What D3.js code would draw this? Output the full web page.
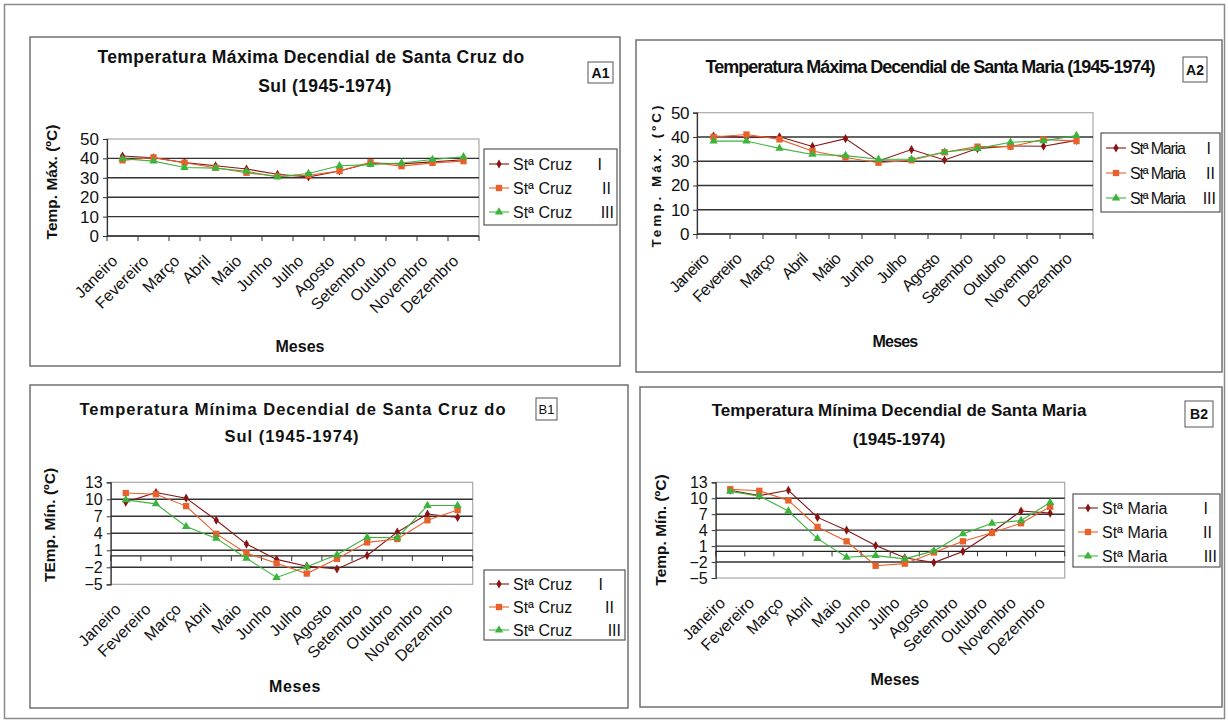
<!DOCTYPE html>
<html>
<head>
<meta charset="utf-8">
<script src="https://cdn.jsdelivr.net/npm/d3@7"></script>
<style>
  html, body { margin: 0; padding: 0; background: #ffffff; }
  svg { display: block; font-family: "Liberation Sans", Arial, sans-serif; }
</style>
</head>
<body>
<svg id="chart" width="1228" height="724"></svg>
<script>
// Month categories on the x axis
const meses = ["Janeiro", "Fevereiro", "Março", "Abril", "Maio", "Junho",
               "Julho", "Agosto", "Setembro", "Outubro", "Novembro", "Dezembro"];

// Tick values for the two y scales
const ticksMax = [0, 10, 20, 30, 40, 50];
const ticksMin = [-5, -2, 1, 4, 7, 10, 13];

// Legend names and station numbers
const nomesCruz = ["Stª Cruz", "Stª Cruz", "Stª Cruz"];
const nomesMaria = ["Stª Maria", "Stª Maria", "Stª Maria"];
const numerais = ["I", "II", "III"];

// Maximum decendial temperature, Santa Cruz do Sul (ºC)
const maxCruzI   = [41.2, 40.3, 37.8, 36.2, 34.5, 31.8, 30.4, 33.5, 37.6, 37.2, 38.2, 39.3];
const maxCruzII  = [39.0, 40.5, 37.8, 35.2, 32.6, 30.8, 31.3, 33.5, 38.0, 36.0, 37.7, 38.6];
const maxCruzIII = [39.8, 38.6, 35.3, 35.0, 33.3, 30.5, 32.2, 36.2, 36.8, 37.6, 39.4, 40.8];

// Maximum decendial temperature, Santa Maria (ºC)
const maxMariaI   = [40.4, 39.7, 40.1, 36.1, 39.3, 30.1, 34.8, 30.5, 35.2, 36.3, 36.2, 38.6];
const maxMariaII  = [40.0, 41.0, 39.0, 34.2, 31.5, 29.4, 30.4, 33.7, 36.0, 36.0, 39.0, 38.3];
const maxMariaIII = [38.3, 38.3, 35.3, 32.8, 32.3, 30.8, 30.8, 33.8, 35.2, 37.8, 38.4, 40.6];

// Minimum decendial temperature, Santa Cruz do Sul (ºC)
const minCruzI   = [9.5, 11.2, 10.2, 6.3, 2.1, -0.6, -1.8, -2.3, 0.1, 4.2, 7.4, 6.8];
const minCruzII  = [11.1, 10.9, 8.8, 3.9, 0.5, -1.3, -3.1, -0.5, 2.4, 3.0, 6.3, 8.1];
const minCruzIII = [9.9, 9.2, 5.2, 3.1, -0.4, -3.8, -1.9, 0.2, 3.3, 3.2, 8.9, 8.9];

// Minimum decendial temperature, Santa Maria (ºC)
const minMariaI   = [11.5, 10.5, 11.5, 6.4, 4.0, 1.1, -1.2, -2.1, 0.0, 3.6, 7.6, 7.2];
const minMariaII  = [11.7, 11.4, 9.6, 4.6, 1.9, -2.7, -2.3, -0.2, 1.9, 3.5, 5.3, 8.4];
const minMariaIII = [11.3, 10.4, 7.6, 2.4, -1.1, -0.8, -1.4, 0.1, 3.3, 5.3, 5.8, 9.2];

// Series styling: colour and marker per station
const estilos = [
  { color: "#881414", symbol: d3.symbolDiamond, size: 24 },
  { color: "#e8602a", symbol: d3.symbolSquare, size: 40 },
  { color: "#3cb43c", symbol: d3.symbolTriangle, size: 30 }
];

const svg = d3.select("#chart");

// Outer frame of the sheet
svg.append("rect")
  .attr("x", 4.5).attr("y", 4.5).attr("width", 1220).attr("height", 714)
  .attr("fill", "none").attr("stroke", "#8a8a8a").attr("stroke-width", 1.5);

function drawPanel(p) {
  const g = svg.append("g");

  // panel border
  g.append("rect")
    .attr("x", p.box[0]).attr("y", p.box[1])
    .attr("width", p.box[2] - p.box[0]).attr("height", p.box[3] - p.box[1])
    .attr("fill", "#fff").attr("stroke", "#707070").attr("stroke-width", 1.5);

  // title
  p.title.forEach((t, i) => {
    g.append("text")
      .attr("x", p.titleX[i]).attr("y", p.titleY[i])
      .attr("text-anchor", "middle")
      .attr("font-size", p.titleSize).attr("font-weight", "bold")
      .attr("letter-spacing", p.titleSpacing)
      .attr("fill", "#111")
      .text(t);
  });

  // panel tag (A1, A2, ...)
  g.append("rect")
    .attr("x", p.tag.box[0]).attr("y", p.tag.box[1])
    .attr("width", p.tag.box[2]).attr("height", p.tag.box[3])
    .attr("fill", "#fff").attr("stroke", "#555").attr("stroke-width", 1);
  g.append("text")
    .attr("x", p.tag.box[0] + p.tag.box[2] / 2)
    .attr("y", p.tag.box[1] + p.tag.box[3] / 2)
    .attr("dy", "0.36em")
    .attr("text-anchor", "middle")
    .attr("font-size", p.tag.size).attr("font-weight", p.tag.bold ? "bold" : "normal")
    .attr("fill", "#111")
    .text(p.tag.text);

  const x = d3.scaleBand().domain(meses).range([p.plot.x0, p.plot.x1]);
  const y = d3.scaleLinear().domain(p.yDomain).range([p.plot.y1, p.plot.y0]);

  // plot area frame
  g.append("rect")
    .attr("x", p.plot.x0).attr("y", p.plot.y0)
    .attr("width", p.plot.x1 - p.plot.x0).attr("height", p.plot.y1 - p.plot.y0)
    .attr("fill", "none").attr("stroke", "#a8a8a8").attr("stroke-width", 1.2);

  // horizontal gridlines
  g.append("g").selectAll("line")
    .data(p.ticks.filter(v => v !== p.yDomain[0] && v !== p.yDomain[1]))
    .join("line")
    .attr("x1", p.plot.x0).attr("x2", p.plot.x1)
    .attr("y1", d => y(d)).attr("y2", d => y(d))
    .attr("stroke", "#333").attr("stroke-width", 1.4);

  // y axis
  const yAxis = d3.axisLeft(y).tickValues(p.ticks).tickSize(4).tickPadding(4)
    .tickFormat(d3.format("d"));
  const ya = g.append("g").attr("transform", `translate(${p.plot.x0},0)`).call(yAxis);
  ya.select(".domain").attr("stroke", "#333").attr("stroke-width", 1.2);
  ya.selectAll(".tick line").attr("stroke", "#333");
  ya.selectAll(".tick text")
    .attr("font-family", "Liberation Sans, Arial, sans-serif")
    .attr("font-size", p.tickSize).attr("letter-spacing", p.tickSpacing)
    .attr("fill", "#111");

  // category axis with tick marks between months
  const axisY = y(p.axisAt);
  const xa = g.append("g").attr("transform", `translate(0,${axisY})`);
  xa.append("line")
    .attr("x1", p.plot.x0).attr("x2", p.plot.x1)
    .attr("stroke", "#222").attr("stroke-width", 1.3);
  const bounds = meses.map(m => x(m)).concat([p.plot.x1]);
  xa.selectAll("line.tk").data(bounds).join("line").attr("class", "tk")
    .attr("x1", d => d).attr("x2", d => d)
    .attr("y1", 0).attr("y2", 5)
    .attr("stroke", "#333").attr("stroke-width", 1);

  // rotated month labels below the plot
  g.append("g").selectAll("text").data(meses).join("text")
    .attr("transform", d =>
      `translate(${x(d) + x.bandwidth() / 2 - 8},${p.plot.y1 + p.labelGap}) rotate(-45)`)
    .attr("text-anchor", "end")
    .attr("dy", "0.35em")
    .attr("font-size", p.monthSize)
    .attr("letter-spacing", p.monthSpacing)
    .attr("fill", "#111")
    .text(d => d);

  // axis titles
  g.append("text")
    .attr("transform", `translate(${p.yTitle[0]},${p.yTitle[1]}) rotate(-90)`)
    .attr("text-anchor", "middle").attr("dy", "0.35em")
    .attr("font-size", p.yTitleSize).attr("font-weight", "bold")
    .attr("letter-spacing", p.yTitleSpacing)
    .attr("fill", "#111")
    .text(p.yTitle[2]);
  g.append("text")
    .attr("x", p.xTitle[0]).attr("y", p.xTitle[1])
    .attr("text-anchor", "middle")
    .attr("font-size", 16).attr("font-weight", "bold")
    .attr("letter-spacing", p.xTitleSpacing)
    .attr("fill", "#111")
    .text("Meses");

  // series lines and markers
  const line = d3.line()
    .x((d, i) => x(meses[i]) + x.bandwidth() / 2)
    .y(d => y(d));
  p.series.forEach((vals, k) => {
    const st = estilos[k];
    g.append("path").datum(vals)
      .attr("d", line)
      .attr("fill", "none").attr("stroke", st.color).attr("stroke-width", 1.1);
    g.append("g").selectAll("path").data(vals).join("path")
      .attr("transform", (d, i) =>
        `translate(${x(meses[i]) + x.bandwidth() / 2},${y(d)})`)
      .attr("d", d3.symbol().type(st.symbol).size(st.size))
      .attr("fill", st.color);
  });

  // legend
  const L = p.legend;
  g.append("rect")
    .attr("x", L.box[0]).attr("y", L.box[1]).attr("width", L.box[2]).attr("height", L.box[3])
    .attr("fill", "#fff").attr("stroke", "#555").attr("stroke-width", 1.2);
  L.rows.forEach((ry, k) => {
    const st = estilos[k];
    const lx = L.box[0] + 5;
    g.append("line")
      .attr("x1", lx).attr("x2", lx + 20).attr("y1", ry).attr("y2", ry)
      .attr("stroke", st.color).attr("stroke-width", 1.1);
    g.append("path")
      .attr("transform", `translate(${lx + 10},${ry})`)
      .attr("d", d3.symbol().type(st.symbol).size(st.size))
      .attr("fill", st.color);
    g.append("text")
      .attr("x", lx + 24).attr("y", ry).attr("dy", "0.36em")
      .attr("font-size", L.size).attr("letter-spacing", L.spacing)
      .attr("fill", "#111")
      .text(p.names[k]);
    g.append("text")
      .attr("x", L.numX[k]).attr("y", ry).attr("dy", "0.36em")
      .attr("text-anchor", "end")
      .attr("font-size", L.size)
      .attr("fill", "#111")
      .text(numerais[k]);
  });
}

const paineis = [
  {
    box: [30, 37, 620, 366],
    title: ["Temperatura Máxima Decendial de Santa Cruz do", "Sul (1945-1974)"],
    titleX: [311, 325], titleY: [63, 92], titleSize: 17.5, titleSpacing: 0.4,
    tag: { text: "A1", box: [588, 62, 25, 21], bold: true, size: 14 },
    plot: { x0: 107, x1: 479, y0: 139, y1: 236 },
    yDomain: [0, 50], ticks: ticksMax, axisAt: 0,
    tickSize: 17, tickSpacing: 0, monthSize: 16, monthSpacing: 0, labelGap: 22,
    yTitle: [52, 182, "Temp. Máx. (ºC)"], yTitleSize: 15.5, yTitleSpacing: 0,
    xTitle: [300, 352], xTitleSpacing: 0,
    series: [maxCruzI, maxCruzII, maxCruzIII], names: nomesCruz,
    legend: { box: [484, 149, 133, 76], rows: [164, 188, 212], size: 16, spacing: 0,
              numX: [602, 611, 614] }
  },
  {
    box: [636, 40, 1222, 372],
    title: ["Temperatura Máxima Decendial de Santa Maria (1945-1974)"],
    titleX: [930], titleY: [73], titleSize: 18, titleSpacing: -1,
    tag: { text: "A2", box: [1183, 57, 24, 25], bold: true, size: 14 },
    plot: { x0: 697, x1: 1093, y0: 112.7, y1: 234 },
    yDomain: [0, 50], ticks: ticksMax, axisAt: 0,
    tickSize: 17, tickSpacing: -0.5, monthSize: 16, monthSpacing: -0.7, labelGap: 22,
    yTitle: [656, 175, "Temp. Máx. (ºC)"], yTitleSize: 13.5, yTitleSpacing: 3,
    xTitle: [895, 347], xTitleSpacing: -0.8,
    series: [maxMariaI, maxMariaII, maxMariaIII], names: nomesMaria,
    legend: { box: [1101, 133, 119, 79], rows: [148, 173, 198], size: 16, spacing: -1.2,
              numX: [1211, 1215, 1216] }
  },
  {
    box: [30, 385, 628, 708],
    title: ["Temperatura Mínima Decendial de Santa Cruz do", "Sul (1945-1974)"],
    titleX: [293, 292], titleY: [415, 442], titleSize: 16.5, titleSpacing: 1.0,
    tag: { text: "B1", box: [536, 398, 21, 22], bold: false, size: 13 },
    plot: { x0: 110.7, x1: 472.7, y0: 482.3, y1: 584.3 },
    yDomain: [-5, 13], ticks: ticksMin, axisAt: 0,
    tickSize: 16, tickSpacing: 0, monthSize: 16, monthSpacing: 0, labelGap: 22,
    yTitle: [50, 525, "TEmp. Mín. (ºC)"], yTitleSize: 15.5, yTitleSpacing: 0,
    xTitle: [295, 692], xTitleSpacing: 0.6,
    series: [minCruzI, minCruzII, minCruzIII], names: nomesCruz,
    legend: { box: [484, 570, 141, 70], rows: [584, 607, 630], size: 16, spacing: 0,
              numX: [603, 614, 621] }
  },
  {
    box: [640, 387, 1222, 707],
    title: ["Temperatura Mínima Decendial de Santa Maria", "(1945-1974)"],
    titleX: [899, 899], titleY: [416, 445], titleSize: 17, titleSpacing: 0,
    tag: { text: "B2", box: [1185, 401, 28, 26], bold: true, size: 14 },
    plot: { x0: 715.7, x1: 1064.7, y0: 482.3, y1: 578 },
    yDomain: [-5, 13], ticks: ticksMin, axisAt: 0,
    tickSize: 16, tickSpacing: 0, monthSize: 16, monthSpacing: 0, labelGap: 22,
    yTitle: [661, 530, "Temp. Mín. (ºC)"], yTitleSize: 15.5, yTitleSpacing: 0,
    xTitle: [895, 685], xTitleSpacing: 0,
    series: [minMariaI, minMariaII, minMariaIII], names: nomesMaria,
    legend: { box: [1073, 494, 147, 73], rows: [508, 532, 556], size: 16, spacing: 0,
              numX: [1208, 1212, 1217] }
  }
];

paineis.forEach(drawPanel);
</script>
</body>
</html>
